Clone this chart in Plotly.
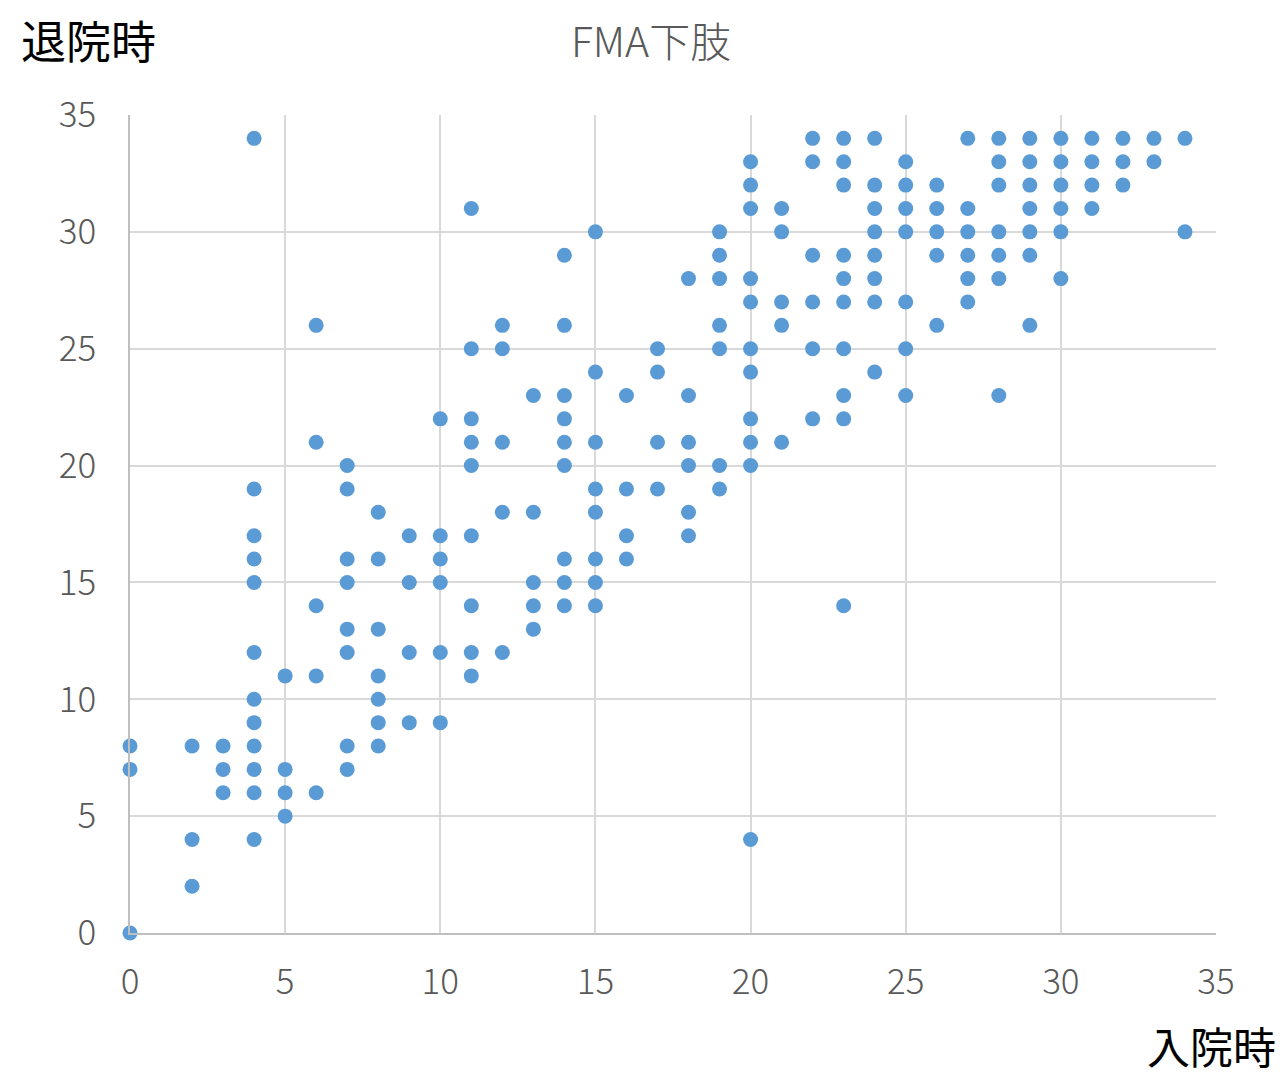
import plotly.graph_objects as go

# FMA lower limb: admission score (x) vs discharge score (y), grouped by admission score
adm_scores = [0, 2, 3, 4, 5, 6, 7, 8, 9, 10, 11, 12, 13, 14, 15, 16, 17,
              18, 19, 20, 21, 22, 23, 24, 25, 26, 27, 28, 29, 30, 31, 32, 33, 34]
dis_scores = [
    [8, 7, 0],
    [8, 4, 2],
    [8, 7, 6],
    [34, 19, 17, 16, 15, 12, 10, 9, 8, 7, 6, 4],
    [11, 7, 6, 5],
    [26, 21, 14, 11, 6],
    [20, 19, 16, 15, 13, 12, 8, 7],
    [18, 16, 13, 11, 10, 9, 8],
    [17, 15, 12, 9],
    [22, 17, 16, 15, 12, 9],
    [31, 25, 22, 21, 20, 17, 14, 12, 11],
    [26, 25, 21, 18, 12],
    [23, 18, 15, 14, 13],
    [29, 26, 23, 22, 21, 20, 16, 15, 14],
    [30, 24, 21, 19, 18, 16, 15, 14],
    [23, 19, 17, 16],
    [25, 24, 21, 19],
    [28, 23, 21, 20, 18, 17],
    [30, 29, 28, 26, 25, 20, 19],
    [33, 32, 31, 28, 27, 25, 24, 22, 21, 20, 4],
    [31, 30, 27, 26, 21],
    [34, 33, 29, 27, 25, 22],
    [34, 33, 32, 29, 28, 27, 25, 23, 22, 14],
    [34, 32, 31, 30, 29, 28, 27, 24],
    [33, 32, 31, 30, 27, 25, 23],
    [32, 31, 30, 29, 26],
    [34, 31, 30, 29, 28, 27],
    [34, 33, 32, 30, 29, 28, 23],
    [34, 33, 32, 31, 30, 29, 26],
    [34, 33, 32, 31, 30, 28],
    [34, 33, 32, 31],
    [34, 33, 32],
    [34, 33],
    [34, 30],
]

x = []
y = []
for a, ds in zip(adm_scores, dis_scores):
    for d in ds:
        x.append(a)
        y.append(d)

tick_vals = [0, 5, 10, 15, 20, 25, 30, 35]

font_cjk = "Noto Sans CJK JP"
grey = "#595959"

fig = go.Figure()
fig.add_trace(go.Scatter(
    x=x, y=y, mode="markers",
    marker=dict(size=15, color="#5B9BD5", line=dict(width=0)),
    cliponaxis=False, showlegend=False,
))

# page body adds an 8px offset, so margins are shifted by 8
fig.update_layout(
    width=1286, height=1079,
    margin=dict(l=122, r=78, t=107, b=154),
    plot_bgcolor="white", paper_bgcolor="white",
    font=dict(family=font_cjk),
)
fig.update_xaxes(
    range=[0, 35], tickvals=tick_vals, showgrid=True, gridcolor="#D9D9D9", gridwidth=1.5,
    zeroline=False, showline=True, linecolor="#BFBFBF", linewidth=1.5, mirror=False,
    ticks="outside", ticklen=17, tickcolor="rgba(0,0,0,0)",
    tickfont=dict(family=font_cjk, size=35, color=grey, weight=300),
)
fig.update_yaxes(
    range=[0, 35], tickvals=tick_vals, showgrid=True, gridcolor="#D9D9D9", gridwidth=1.5,
    zeroline=False, showline=True, linecolor="#BFBFBF", linewidth=1.5, mirror=False,
    ticks="outside", ticklen=25, tickcolor="rgba(0,0,0,0)",
    tickfont=dict(family=font_cjk, size=35, color=grey, weight=300),
)

# chart title
fig.add_annotation(text="FMA下肢", xref="paper", yref="paper", x=0.48, y=1.093,
                   xanchor="center", yanchor="middle", showarrow=False,
                   font=dict(family=font_cjk, size=41, color=grey, weight=300))
fig.add_annotation(text="退院時", xref="paper", yref="paper", x=-0.102, y=1.092,
                   xanchor="left", yanchor="middle", showarrow=False,
                   font=dict(family=font_cjk, size=45, color="black"))
fig.add_annotation(text="入院時", xref="paper", yref="paper", x=1.057, y=-0.137,
                   xanchor="right", yanchor="middle", showarrow=False,
                   font=dict(family=font_cjk, size=43, color="black"))

fig.write_html("out.html")
